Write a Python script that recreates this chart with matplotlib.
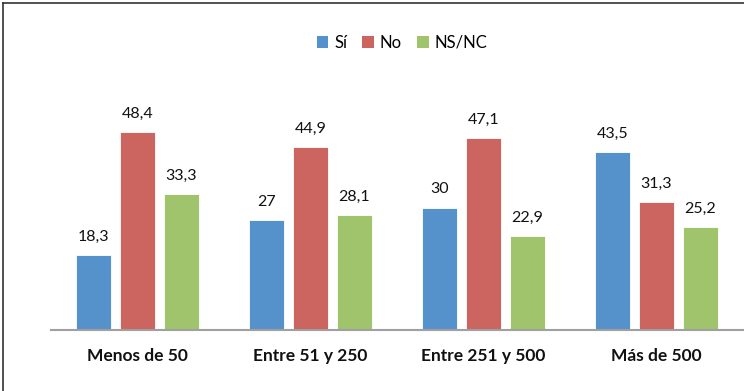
import matplotlib
matplotlib.use("Agg")
import matplotlib.pyplot as plt
import numpy as np
from matplotlib.lines import Line2D
from matplotlib.patches import Patch

categories = ["Menos de 50", "Entre 51 y 250", "Entre 251 y 500", "Más de 500"]
series_names = ["Sí", "No", "NS/NC"]
si = [18.3, 27, 30, 43.5]
no = [48.4, 44.9, 47.1, 31.3]
nsnc = [33.3, 28.1, 22.9, 25.2]
colors = ["#5592CB", "#CC6560", "#9FC46B"]

plt.rcParams["font.family"] = ["Lato", "DejaVu Sans"]

W, H = 744, 391
fig = plt.figure(figsize=(W / 100, H / 100), dpi=100)
fig.patch.set_facecolor("white")

ax = fig.add_axes([51 / W, 61 / H, 692 / W, 245 / H])
x = np.arange(len(categories))
bw = 0.202
step = 0.254


def fmt(v):
    s = f"{v:.1f}"
    if s.endswith(".0"):
        s = s[:-2]
    return s.replace(".", ",")


for i, (vals, c, name) in enumerate(zip([si, no, nsnc], colors, series_names)):
    bars = ax.bar(x + (i - 1) * step, vals, width=bw, color=c, label=name,
                  edgecolor="white", linewidth=0.6, zorder=2)
    for b, v in zip(bars, vals):
        ax.annotate(fmt(v), (b.get_x() + b.get_width() / 2, v),
                    xytext=(0, 8), textcoords="offset points",
                    ha="center", va="bottom", fontsize=11.5, color="#111111")

ax.set_xlim(-0.5, 3.5)
ax.set_ylim(0, 60)
ax.set_yticks([])
ax.set_xticks(x)
ax.set_xticklabels(categories, fontsize=12.5, fontweight="bold", color="#111111")
ax.tick_params(axis="x", length=0, pad=13)
for s in ["top", "right", "left"]:
    ax.spines[s].set_visible(False)
ax.spines["bottom"].set_color("#A0A0A0")
ax.spines["bottom"].set_linewidth(1.5)
ax.set_facecolor("none")

handles = [Patch(facecolor=c, edgecolor="none") for c in colors]
fig.legend(handles, series_names, loc="center", bbox_to_anchor=(402 / W, 1 - 43 / H),
           ncol=3, frameon=False, fontsize=12, handlelength=0.7, handleheight=0.7,
           handletextpad=0.35, columnspacing=0.9)

# Outer frame: left and top edges
fig.add_artist(Line2D([3 / W, 3 / W], [0, 1 - 3 / H], transform=fig.transFigure,
                      color="#333333", linewidth=1.2))
fig.add_artist(Line2D([3 / W, 1], [1 - 3 / H, 1 - 3 / H], transform=fig.transFigure,
                      color="#333333", linewidth=1.2))

fig.savefig("out.png", dpi=100)
